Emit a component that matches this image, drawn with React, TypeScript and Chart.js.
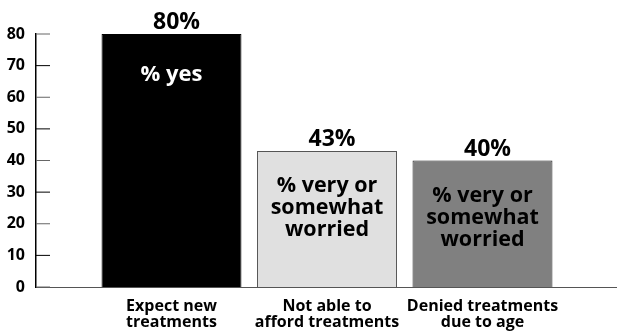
import React, { useEffect, useRef } from "react";
import { Chart, registerables } from "chart.js";

Chart.register(...registerables);

const categories: string[][] = [
  ["Expect new", "treatments"],
  ["Not able to", "afford treatments"],
  ["Denied treatments", "due to age"],
];
const values: number[] = [80, 43, 40];
const valueLabels: string[] = ["80%", "43%", "40%"];
const innerLabels: string[][] = [
  ["% yes"],
  ["% very or", "somewhat", "worried"],
  ["% very or", "somewhat", "worried"],
];
const yTicks: number[] = [0, 10, 20, 30, 40, 50, 60, 70, 80];

const barColors = ["#000000", "#e0e0e0", "#808080"];
const barBorders = ["#000000", "#555555", "#222222"];
const innerColors = ["#ffffff", "#000000", "#000000"];
const FONT = "'Open Sans', 'Noto Sans', sans-serif";

const labelPlugin = {
  id: "labelPlugin",
  afterDatasetsDraw(chart: any) {
    const ctx = chart.ctx;
    const area = chart.chartArea;
    const yScale = chart.scales.y;
    ctx.save();
    yTicks.forEach((v, i) => {
      const py = yScale.getPixelForValue(v);
      ctx.beginPath();
      ctx.strokeStyle = i % 2 === 0 ? "#666" : "#000";
      ctx.lineWidth = 1;
      ctx.moveTo(area.left, py);
      ctx.lineTo(area.left + 14, py);
      ctx.stroke();
    });
    const meta = chart.getDatasetMeta(0);
    meta.data.forEach((bar: any, i: number) => {
      ctx.fillStyle = "#000";
      ctx.textAlign = "center";
      ctx.textBaseline = "alphabetic";
      ctx.font = `bold 23px ${FONT}`;
      ctx.fillText(valueLabels[i], bar.x + 5, bar.y - 5);
      ctx.fillStyle = innerColors[i];
      const lines = innerLabels[i];
      ctx.font = `bold ${lines.length === 1 ? 22 : 21.5}px ${FONT}`;
      const start = lines.length === 1 ? 47 : 41;
      lines.forEach((ln, j) => {
        ctx.fillText(ln, bar.x, bar.y + start + j * 22);
      });
    });
    ctx.restore();
  },
};

export default function App() {
  const ref = useRef<HTMLCanvasElement>(null);
  useEffect(() => {
    if (!ref.current) return;
    const chart = new Chart(ref.current, {
      type: "bar",
      data: {
        datasets: [
          {
            data: values.map((v, i) => ({ x: i + 1, y: v })) as any,
            backgroundColor: barColors,
            borderColor: barBorders,
            borderWidth: 1,
            barPercentage: 0.9,
            categoryPercentage: 1,
          },
        ],
      },
      options: {
        animation: false,
        responsive: false,
        maintainAspectRatio: false,
        layout: { padding: { top: 34, right: 0, left: 0, bottom: 0 } },
        plugins: {
          legend: { display: false },
          tooltip: { enabled: false },
        },
        scales: {
          x: {
            type: "linear",
            offset: false,
            min: 0.1286,
            max: 3.865,
            afterFit: (s: any) => {
              s.height = 44;
            },
            afterBuildTicks: (axis: any) => {
              axis.ticks = [1, 2, 3].map((v) => ({ value: v }));
            },
            grid: { display: false, drawTicks: false, offset: false },
            border: { display: true, color: "#555", width: 1 },
            ticks: {
              autoSkip: false,
              maxRotation: 0,
              padding: 11,
              color: "#000",
              font: { family: FONT, weight: "bold", size: 16, lineHeight: 1.02 },
              callback: (v: any) => categories[Number(v) - 1] || "",
            },
          },
          y: {
            min: 0,
            max: 80,
            afterFit: (s: any) => {
              s.width = 36;
            },
            afterBuildTicks: (axis: any) => {
              axis.ticks = yTicks.map((v) => ({ value: v }));
            },
            grid: { display: false, drawTicks: false },
            border: { display: true, color: "#000", width: 1.5 },
            ticks: {
              padding: 11,
              color: "#000",
              font: { family: FONT, weight: "bold", size: 16 },
            },
          },
        },
      } as any,
      plugins: [labelPlugin],
    });
    return () => chart.destroy();
  }, []);
  return (
    <canvas
      ref={ref}
      width={617}
      height={331}
      style={{ position: "fixed", left: 0, top: 0, width: 617, height: 331 }}
    />
  );
}
